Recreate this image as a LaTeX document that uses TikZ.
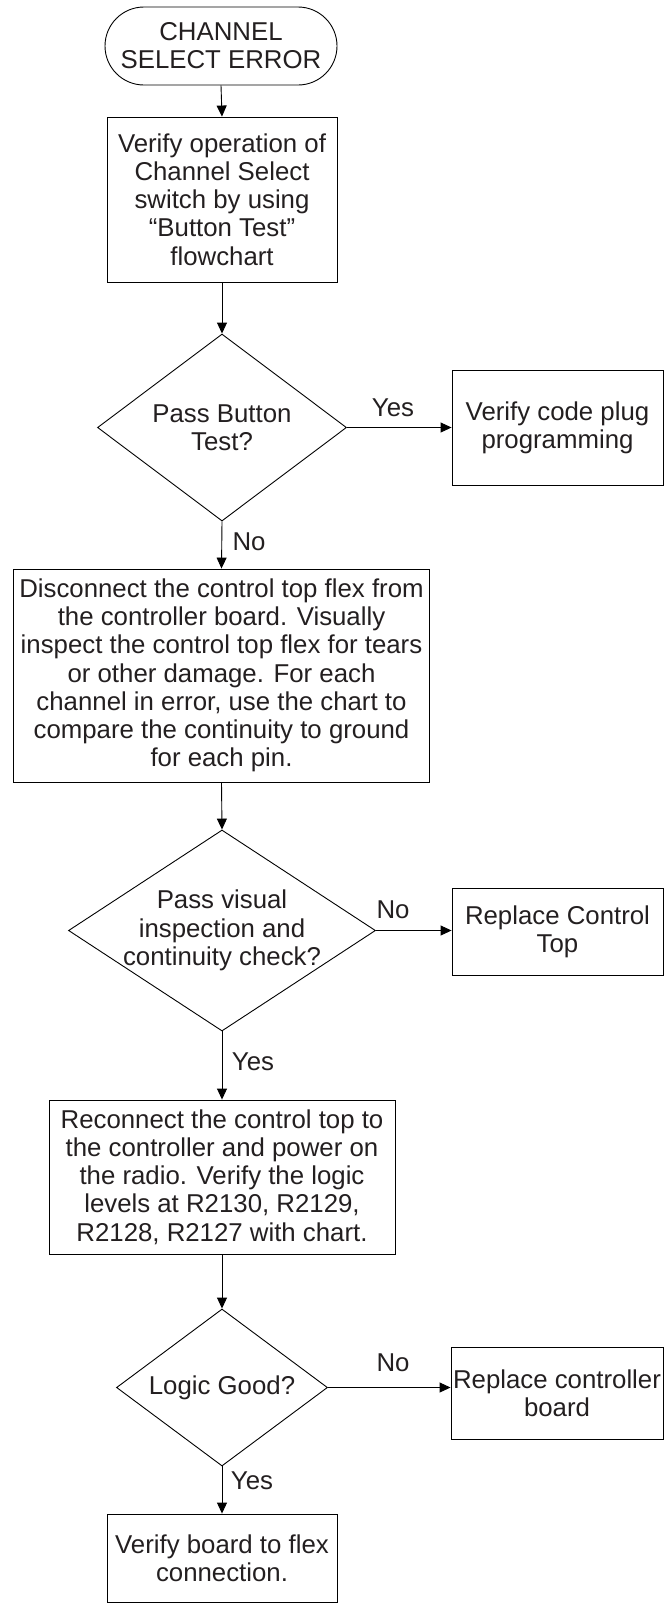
\documentclass[tikz,border=0pt]{standalone}
\usepackage{fontspec}
\setmainfont{Liberation Sans}
\usetikzlibrary{shapes.geometric,arrows.meta}
\definecolor{ink}{RGB}{35,31,32}
\begin{document}
\begin{tikzpicture}[x=1pt,y=-1pt,
  every node/.style={text=ink,font=\fontsize{25.8}{28.2}\selectfont,align=center,inner sep=0pt},
  boxnode/.style={draw=black,line width=0.9pt,rectangle},
  termnode/.style={draw=black,line width=0.9pt,rectangle,rounded corners=39pt},
  dianode/.style={draw=black,line width=0.9pt,diamond},
  lbl/.style={},
  conn/.style={draw=black,line width=0.9pt,-{Triangle[length=11pt,width=10pt]}}]
\useasboundingbox (0,0) rectangle (666,1604);
% main column
\node[termnode,minimum width=232pt,minimum height=78pt] (t) at (221,46) {CHANNEL\\SELECT ERROR};
\node[boxnode,minimum width=230pt,minimum height=165pt] (b1) at (222,199.5) {Verify operation of\\Channel Select\\switch by using\\``Button Test''\\flowchart};
\node[dianode,minimum width=249pt,minimum height=187pt] (d1) at (222,427.5) {};
\node (d1t) at (222,427.5) {Pass Button\\Test?};
\node[boxnode,minimum width=211pt,minimum height=115pt] (r1) at (557.5,427.5) {Verify code plug\\programming};
\node[boxnode,minimum width=416pt,minimum height=213pt] (b2) at (221.5,675.5) {Disconnect the control top flex from\\the controller board. Visually\\inspect the control top flex for tears\\or other damage. For each\\channel in error, use the chart to\\compare the continuity to ground\\for each pin.};
\node[dianode,minimum width=307pt,minimum height=201pt] (d2) at (222,930.5) {};
\node (d2t) at (222,930.5) {Pass visual\\inspection and\\continuity check?};
\node[boxnode,minimum width=211pt,minimum height=87pt] (r2) at (557.5,931.5) {Replace Control\\Top};
\node[boxnode,minimum width=346pt,minimum height=154pt] (b3) at (222,1177) {Reconnect the control top to\\the controller and power on\\the radio. Verify the logic\\levels at R2130, R2129,\\R2128, R2127 with chart.};
\node[dianode,minimum width=211pt,minimum height=157pt] (d3) at (222,1387.5) {};
\node (d3t) at (222,1387.5) {Logic Good?};
\node[boxnode,minimum width=212pt,minimum height=92pt] (r3) at (557,1393) {Replace controller\\board};
\node[boxnode,minimum width=230pt,minimum height=88pt] (b4) at (222,1558) {Verify board to flex\\connection.};
% connectors
\draw[conn] (t.south) -- (b1.north);
\draw[conn] (b1.south) -- (d1.north);
\draw[conn] (d1.east) -- (d1.east -| r1.west);
\draw[conn] (d1.south) -- (b2.north);
\draw[conn] (b2.south) -- (d2.north);
\draw[conn] (d2.east) -- (d2.east -| r2.west);
\draw[conn] (d2.south) -- (b3.north);
\draw[conn] (b3.south) -- (d3.north);
\draw[conn] (d3.east) -- (d3.east -| r3.west);
\draw[conn] (d3.south) -- (b4.north);
% labels
\node[lbl] (l1) at (393,408) {Yes};
\node[lbl] (l2) at (249,542) {No};
\node[lbl] (l3) at (393,910) {No};
\node[lbl] (l4) at (253,1062) {Yes};
\node[lbl] (l5) at (393,1363) {No};
\node[lbl] (l6) at (252,1481) {Yes};
\end{tikzpicture}
\end{document}
